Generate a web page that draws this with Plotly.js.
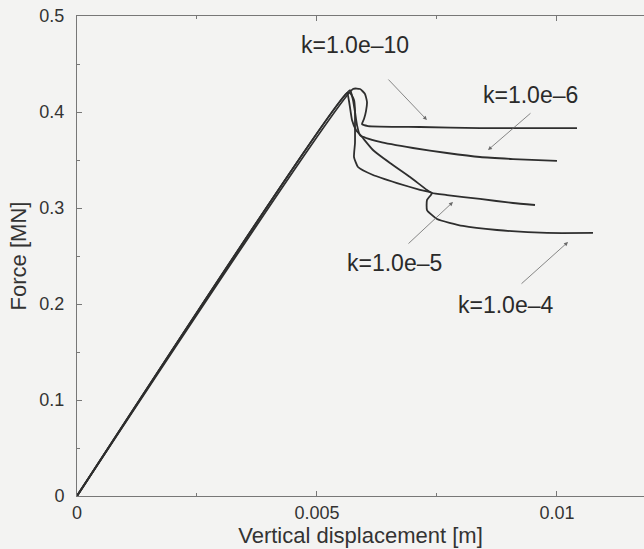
<!DOCTYPE html>
<html>
<head>
<meta charset="utf-8">
<script src="https://cdn.plot.ly/plotly-3.0.1.min.js"></script>
<style>
html,body{margin:0;padding:0;background:#f3f3f2;overflow:hidden;}
#chart{width:644px;height:549px;}
</style>
</head>
<body>
<div id="chart"></div>
<script>
// Vertical displacement [m] and Force [MN] for each penalty value k
const seriesNames = ["k=1.0e–10", "k=1.0e–6", "k=1.0e–5", "k=1.0e–4"];

const x_k10 = [0, 0.00575, 0.005896, 0.006, 0.006042, 0.006021, 0.005979, 0.005938, 0.006063, 0.007146, 0.008396, 0.010417];
const y_k10 = [0, 0.424, 0.424, 0.4188, 0.4104, 0.401, 0.3927, 0.3875, 0.3854, 0.3844, 0.3833, 0.3833];

const x_k6 = [0, 0.005688, 0.00575, 0.005792, 0.005833, 0.005896, 0.006313, 0.007, 0.007708, 0.008396, 0.009083, 0.01];
const y_k6 = [0, 0.4229, 0.4125, 0.4, 0.3865, 0.376, 0.3688, 0.3625, 0.3573, 0.3531, 0.351, 0.349];

const x_k5 = [0, 0.005625, 0.005667, 0.005729, 0.005813, 0.005938, 0.006167, 0.006521, 0.006938, 0.007292, 0.007396, 0.007708, 0.008396, 0.009083, 0.009542];
const y_k5 = [0, 0.4198, 0.4115, 0.3917, 0.3813, 0.374, 0.3604, 0.3469, 0.3323, 0.3188, 0.3156, 0.3135, 0.3094, 0.3052, 0.3031];

const x_k4 = [0, 0.005667, 0.005771, 0.005792, 0.005792, 0.005792, 0.005771, 0.005854, 0.006167, 0.006667, 0.007146, 0.007396, 0.007292, 0.007292, 0.0075, 0.008042, 0.00875, 0.009792, 0.01075];
const y_k4 = [0, 0.4208, 0.4125, 0.4021, 0.3865, 0.3677, 0.3531, 0.3427, 0.3344, 0.326, 0.3188, 0.3156, 0.3083, 0.2979, 0.2885, 0.2813, 0.2771, 0.274, 0.274];

// Label text, arrow tip (data), arrow tail (data) and text centre (data)
const labelText = ["k=1.0e–10", "k=1.0e–6", "k=1.0e–5", "k=1.0e–4"];
const arrowTipX = [0.00729, 0.008563, 0.007833, 0.01023];
const arrowTipY = [0.3917, 0.3604, 0.30625, 0.2646];
const arrowTailX = [0.006458, 0.009479, 0.006875, 0.00923];
const arrowTailY = [0.4354, 0.4, 0.2615, 0.2198];
const labelX = [0.0058, 0.009438, 0.006625, 0.00892];
const labelY = [0.4698, 0.4177, 0.2427, 0.1990];

const xs = [x_k10, x_k6, x_k5, x_k4];
const ys = [y_k10, y_k6, y_k5, y_k4];

const traces = xs.map((x, i) => ({
  x: x, y: ys[i], name: seriesNames[i], type: 'scatter', mode: 'lines',
  line: {color: '#2e2e2e', width: 1.8, shape: 'spline', smoothing: 0.45},
  showlegend: false, hoverinfo: 'skip'
}));

const FONT = 'Liberation Sans, Arial, Helvetica, sans-serif';
const annotations = [];
labelText.forEach((t, i) => {
  annotations.push({
    x: arrowTipX[i], y: arrowTipY[i], xref: 'x', yref: 'y',
    ax: arrowTailX[i], ay: arrowTailY[i], axref: 'x', ayref: 'y',
    text: '', showarrow: true, arrowhead: 2, arrowsize: 1, arrowwidth: 0.8,
    arrowcolor: '#6a6a6a', standoff: 0, startstandoff: 0
  });
  annotations.push({
    x: labelX[i], y: labelY[i], xref: 'x', yref: 'y', text: t, showarrow: false,
    font: {family: FONT, size: 23, color: '#2a2a2a'}
  });
});

const layout = {
  width: 644, height: 549,
  paper_bgcolor: '#f3f3f2', plot_bgcolor: '#f3f3f2',
  margin: {l: 77, r: 0, t: 16, b: 53},
  font: {family: FONT, color: '#333'},
  xaxis: {
    range: [0, 0.011813], tickvals: [0, 0.005, 0.01], ticktext: ['0', '0.005', '0.01'],
    ticks: 'inside', ticklen: 5, tickcolor: '#777', showline: true, linecolor: '#777', linewidth: 1,
    mirror: 'ticks', showgrid: false, zeroline: false,
    minor: {dtick: 0.0025, tick0: 0, ticks: 'inside', ticklen: 3, tickcolor: '#777'},
    tickfont: {size: 18, color: '#333'}, ticklabelstandoff: 0,
    title: {text: 'Vertical displacement [m]', font: {size: 22, color: '#333'}, standoff: 0}
  },
  yaxis: {
    range: [0, 0.5], tickvals: [0, 0.1, 0.2, 0.3, 0.4, 0.5], ticktext: ['0', '0.1', '0.2', '0.3', '0.4', '0.5'],
    ticks: 'inside', ticklen: 5, tickcolor: '#777', showline: true, linecolor: '#777', linewidth: 1,
    mirror: false, showgrid: false, zeroline: false,
    minor: {dtick: 0.05, tick0: 0, ticks: 'inside', ticklen: 3, tickcolor: '#777'},
    tickfont: {size: 18, color: '#333'}, ticklabelstandoff: 8,
    title: {text: 'Force [MN]', font: {size: 22, color: '#333'}, standoff: 6}
  },
  annotations: annotations
};

Plotly.newPlot('chart', traces, layout, {displayModeBar: false, staticPlot: true});
</script>
</body>
</html>
